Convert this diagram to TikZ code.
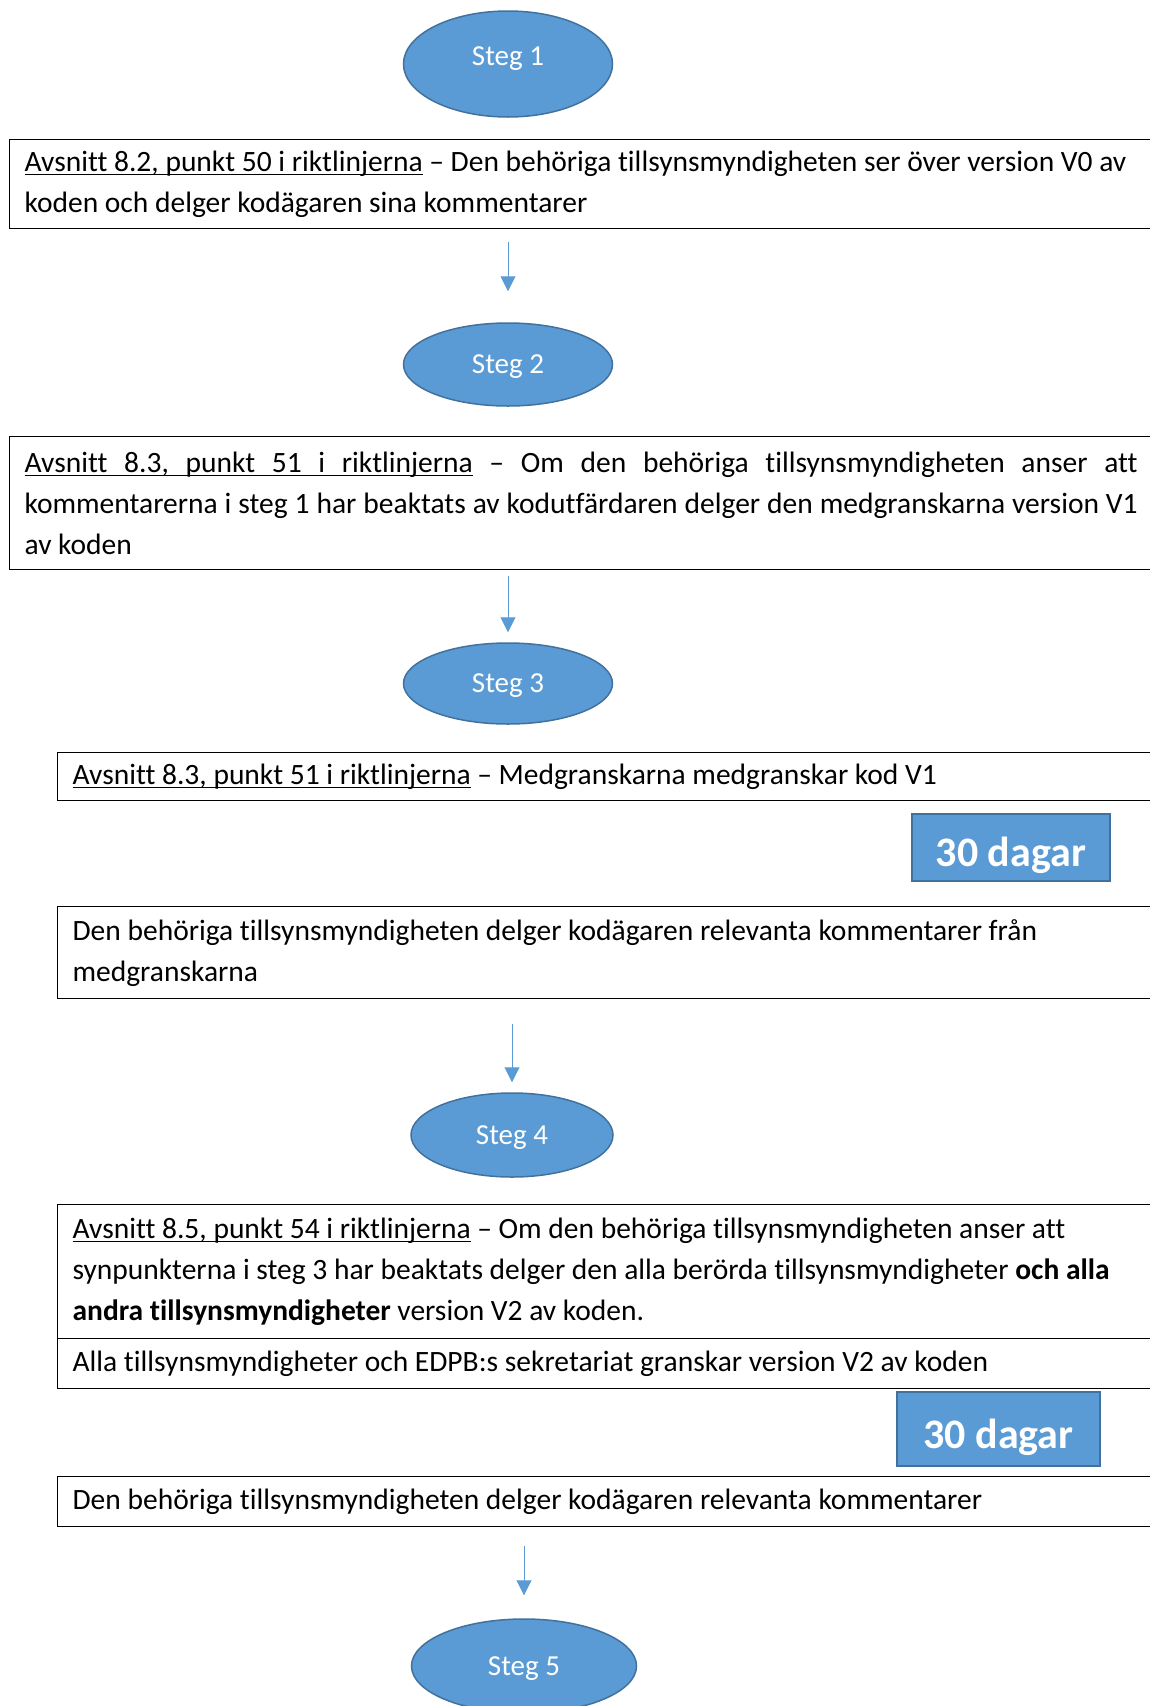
\documentclass[tikz,border=0pt]{standalone}
\usepackage{fontspec}
\setmainfont{Carlito}[Ligatures=NoCommon]
\usetikzlibrary{shapes.geometric, arrows.meta}
\definecolor{stegblue}{HTML}{5B9BD5}
\definecolor{stegedge}{HTML}{41719C}
\newcommand\ulinje[1]{\setbox0\hbox{#1}\rlap{\rule[-4pt]{\wd0}{1.4pt}}\box0\relax}
\newcommand\ulsp{\leaders\vrule height -2.6pt depth 4pt\hskip\fontdimen2\font plus\fontdimen3\font minus\fontdimen4\font\relax}

\begin{document}
\begin{tikzpicture}[x=1pt, y=-1pt,
    steg/.style={ellipse, draw=stegedge, line width=1.5pt, fill=stegblue, text=white,
                 inner sep=0pt, text height=18pt, text depth=0pt,
                 font=\fontsize{29}{35}\selectfont},
    textbox/.style={rectangle, draw=black, line width=1.2pt, anchor=north west,
                    inner xsep=15pt, inner ysep=0pt, align=justify,
                    font=\fontsize{29.5}{41}\selectfont},
    dagar/.style={rectangle, draw=stegedge, line width=2pt, fill=stegblue, text=white,
                  inner sep=0pt, text height=38pt, text depth=0pt,
                  font=\bfseries\fontsize{42}{48}\selectfont},
    pil/.style={-{Triangle[width=15pt,length=15pt]}, draw=stegblue, line width=1pt}]

   \useasboundingbox (0,0) rectangle (1150,1706);

   \node[steg, minimum width=209pt, minimum height=106pt, text height=2pt] (steg1) at (508,64) {Steg 1};
   \node[textbox, text width=1200pt, minimum height=89pt] (avs1) at (9,139)
      {\ulinje{Avsnitt 8.2, punkt 50 i riktlinjerna} -- Den behöriga tillsynsmyndigheten ser över version V0 av\\
       koden och delger kodägaren sina kommentarer};

   \node[steg, minimum width=209pt, minimum height=83pt] (steg2) at (508,364.5) {Steg 2};
   \node[textbox, text width=1113pt, minimum height=133pt] (avs2) at (9,436)
      {\ulinje{Avsnitt}\ulsp\ulinje{8.3,}\ulsp\ulinje{punkt}\ulsp\ulinje{51}\ulsp\ulinje{i}\ulsp\ulinje{riktlinjerna}
       -- Om den behöriga tillsynsmyndigheten anser att\linebreak
       kommentarerna i steg 1 har beaktats av kodutfärdaren delger den medgranskarna version V1\linebreak
       av koden};

   \node[steg, minimum width=209pt, minimum height=81pt] (steg3) at (508,683.5) {Steg 3};
   \node[textbox, text width=1070pt, minimum height=48pt] (avs3) at (57,752)
      {\ulinje{Avsnitt 8.3, punkt 51 i riktlinjerna} -- Medgranskarna medgranskar kod V1};
   \node[dagar, minimum width=198pt, minimum height=67pt] (dagar1) at (1011,847.5) {30 dagar};
   \node[textbox, text width=1070pt, minimum height=92pt] (komm1) at (57,906)
      {Den behöriga tillsynsmyndigheten delger kodägaren relevanta kommentarer från\\
       medgranskarna};

   \node[steg, minimum width=202pt, minimum height=84pt] (steg4) at (512,1135) {Steg 4};
   \node[textbox, text width=1070pt, minimum height=134pt] (avs5) at (57,1204)
      {\ulinje{Avsnitt 8.5, punkt 54 i riktlinjerna} -- Om den behöriga tillsynsmyndigheten anser att\\
       synpunkterna i steg 3 har beaktats delger den alla berörda tillsynsmyndigheter \textbf{och alla}\\
       \textbf{andra tillsynsmyndigheter} version V2 av koden.};
   \node[textbox, text width=1070pt, minimum height=50pt] (gransk) at (57,1338)
      {Alla tillsynsmyndigheter och EDPB:s sekretariat granskar version V2 av koden};
   \node[dagar, minimum width=203pt, minimum height=74pt] (dagar2) at (998.5,1429) {30 dagar};
   \node[textbox, text width=1070pt, minimum height=50pt] (komm2) at (57,1476)
      {Den behöriga tillsynsmyndigheten delger kodägaren relevanta kommentarer};

   \node[steg, minimum width=225pt, minimum height=94pt] (steg5) at (524,1666) {Steg 5};

   % pilar mellan stegen
   \draw[pil, shorten <=13pt, shorten >=31pt] (avs1.south -| steg2) -- (steg2.north);
   \draw[pil, shorten <=6pt, shorten >=10pt] (avs2.south -| steg3) -- (steg3.north);
   \draw[pil, shorten <=25pt, shorten >=10pt] (komm1.south -| steg4) -- (steg4.north);
   \draw[pil, shorten <=19pt, shorten >=23pt] (komm2.south -| steg5) -- (steg5.north);
\end{tikzpicture}
\end{document}
